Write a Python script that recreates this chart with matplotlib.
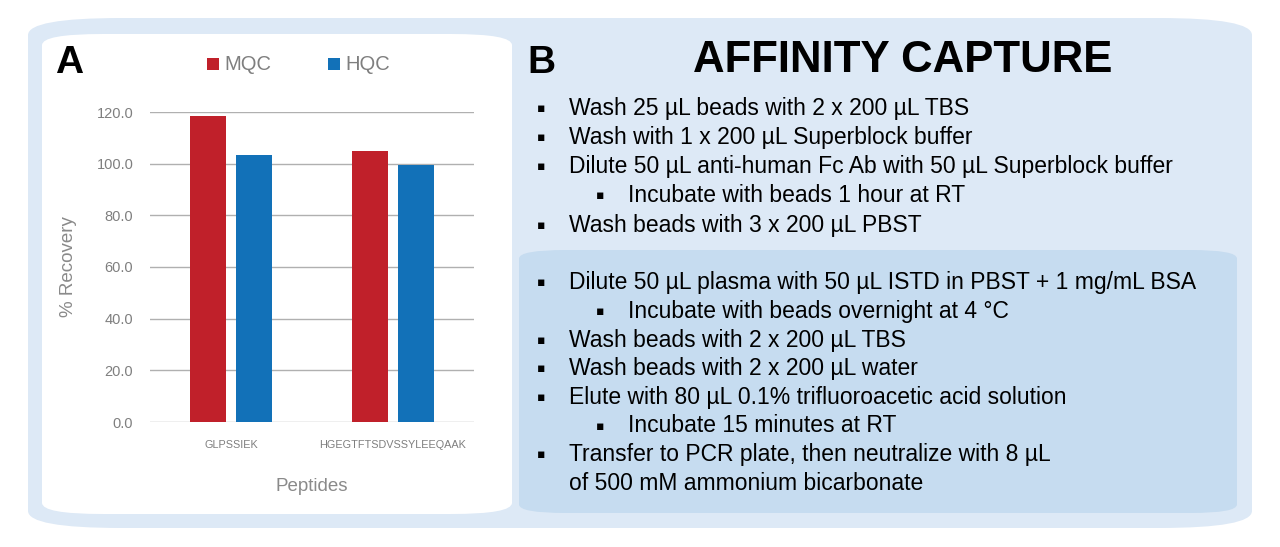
import matplotlib.pyplot as plt
from matplotlib.patches import FancyBboxPatch
import numpy as np

plt.rcParams['font.family'] = 'Liberation Sans'

peptides = ['GLPSSIEK', 'HGEGTFTSDVSSYLEEQAAK']
mqc = [118.5, 104.8]
hqc = [103.2, 99.3]
yticks = [0, 20, 40, 60, 80, 100, 120]

steps_top = [
    (0, 'Wash 25 µL beads with 2 x 200 µL TBS'),
    (0, 'Wash with 1 x 200 µL Superblock buffer'),
    (0, 'Dilute 50 µL anti-human Fc Ab with 50 µL Superblock buffer'),
    (1, 'Incubate with beads 1 hour at RT'),
    (0, 'Wash beads with 3 x 200 µL PBST'),
]
steps_bottom = [
    (0, 'Dilute 50 µL plasma with 50 µL ISTD in PBST + 1 mg/mL BSA'),
    (1, 'Incubate with beads overnight at 4 °C'),
    (0, 'Wash beads with 2 x 200 µL TBS'),
    (0, 'Wash beads with 2 x 200 µL water'),
    (0, 'Elute with 80 µL 0.1% trifluoroacetic acid solution'),
    (1, 'Incubate 15 minutes at RT'),
    (0, 'Transfer to PCR plate, then neutralize with 8 µL'),
    (2, 'of 500 mM ammonium bicarbonate'),
]

W, H = 1280, 547
fig = plt.figure(figsize=(12.8, 5.47), dpi=100)

def box(x0, y0, x1, y1, color, r):
    fig.patches.append(FancyBboxPatch((x0 / W, 1 - y1 / H), (x1 - x0) / W, (y1 - y0) / H,
                                      boxstyle='round,pad=0,rounding_size=%f' % (r / H),
                                      transform=fig.transFigure, fc=color, ec='none',
                                      mutation_aspect=H / W))

box(28, 18, 1252, 528, '#dde9f6', 40)
box(42, 34, 512, 514, 'white', 26)
box(519, 250, 1237, 513, '#c6dcf0', 20)

ax = fig.add_axes([150 / W, 1 - 422 / H, 324 / W, 310 / H])
ax.set_zorder(3)
ax.set_facecolor('none')
x = np.arange(len(peptides))
ax.bar(x - 0.142, mqc, 0.222, color='#c0202a')
ax.bar(x + 0.142, hqc, 0.222, color='#1271b8')
ax.set_xlim(-0.5, 1.5)
ax.set_ylim(0, 120)
ax.set_yticks(yticks)
ax.set_yticklabels(['%.1f' % v for v in yticks], fontsize=10.5, color='#7f7f7f')
ax.set_xticks(x)
ax.set_xticklabels(peptides, fontsize=7.8, color='#7f7f7f')
ax.tick_params(length=0, pad=12)
ax.tick_params(axis='x', pad=13)
ax.grid(axis='y', color='#b0b0b0', lw=1)
ax.set_axisbelow(True)
for s in ax.spines.values():
    s.set_visible(False)
ax.set_ylabel('% Recovery', fontsize=13.5, color='#8a8a8a', labelpad=14)
ax.set_xlabel('Peptides', fontsize=13.5, color='#8a8a8a', labelpad=20)

fig.text(55 / W, 1 - 63 / H, 'A', fontsize=28, weight='bold', va='center')
fig.text(527 / W, 1 - 63 / H, 'B', fontsize=28, weight='bold', va='center')
fig.text(903 / W, 1 - 61 / H, 'AFFINITY CAPTURE', fontsize=31.5, weight='bold', va='center', ha='center')

# legend
fig.patches.append(plt.Rectangle((207 / W, 1 - 70 / H), 12 / W, 12 / H, transform=fig.transFigure, fc='#c0202a'))
fig.text(224 / W, 1 - 64 / H, 'MQC', fontsize=14.5, color='#7f7f7f', va='center')
fig.patches.append(plt.Rectangle((328 / W, 1 - 70 / H), 12 / W, 12 / H, transform=fig.transFigure, fc='#1271b8'))
fig.text(345 / W, 1 - 64 / H, 'HQC', fontsize=14.5, color='#7f7f7f', va='center')

def write(steps, y0, dy):
    for i, (lvl, t) in enumerate(steps):
        y = 1 - (y0 + i * dy) / H
        if lvl == 0:
            fig.text(537 / W, y, '▪', fontsize=9, va='center', family='DejaVu Sans')
            fig.text(569 / W, y, t, fontsize=16.5, va='center')
        elif lvl == 1:
            fig.text(596 / W, y, '▪', fontsize=9, va='center', family='DejaVu Sans')
            fig.text(628 / W, y, t, fontsize=16.5, va='center')
        else:
            fig.text(569 / W, y, t, fontsize=16.5, va='center')

write(steps_top, 108, 29.3)
write(steps_bottom, 283, 28.6)

fig.savefig('out.png', dpi=100)
